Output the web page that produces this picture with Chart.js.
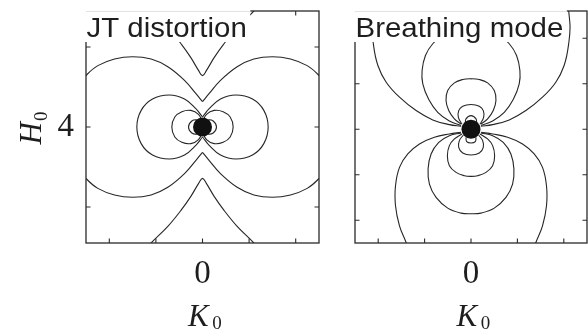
<!DOCTYPE html>
<html>
<head>
<meta charset="utf-8">
<script src="https://cdn.jsdelivr.net/npm/chart.js@4.4.1/dist/chart.umd.min.js"></script>
<style>
  html, body { margin: 0; padding: 0; background: #fff; overflow: hidden; }
  #wrap { position: relative; width: 588px; height: 332px; }
  canvas { position: absolute; top: 0; }
  #jt { left: 0; }
  #bm { left: 330px; }
</style>
</head>
<body>
<div id="wrap">
  <canvas id="jt" width="330" height="332"></canvas>
  <canvas id="bm" width="258" height="332"></canvas>
</div>
<script>
// ---- labels and ticks ----
const panelTitles = ['JT distortion', 'Breathing mode'];
const kName = ['K', '0'];
const hName = ['H', '0'];
const kTicks = [-2, -1, 0, 1, 2];
const hTicksJT = [3, 4, 5];
const hTicksBM = [-2, -1, 0, 1, 2];
const kLabelValue = 0;
const hLabelValue = 4;

// ---- JT distortion contours, points as [K0, H0] ----
const jtCentre = [[0, 4]];
const jtVUpper = [[-1.431,5.667],[-1.102,5.45],[-0.744,5.242],[-0.451,5.033],[-0.250,4.867],[-0.086,4.708],[0,4.642],[0.086,4.708],[0.250,4.867],[0.451,5.033],[0.744,5.242],[1.102,5.45],[1.431,5.667]];
const jtVLower = [[-1.431,2.333],[-1.102,2.55],[-0.744,2.758],[-0.451,2.967],[-0.250,3.133],[-0.086,3.292],[0,3.358],[0.086,3.292],[0.250,3.133],[0.451,2.967],[0.744,2.758],[1.102,2.55],[1.431,2.333]];
const jtArcUpperLeft = [[-2.818,4.421],[-2.489,4.65],[-2.246,4.767],[-1.888,4.85],[-1.502,4.879],[-1.102,4.85],[-0.744,4.754],[-0.386,4.583],[-0.136,4.413],[0,4.317]];
const jtArcUpperRight = [[0,4.317],[0.136,4.413],[0.386,4.583],[0.744,4.754],[1.102,4.85],[1.502,4.879],[1.888,4.85],[2.246,4.767],[2.489,4.65],[2.818,4.421]];
const jtArcLowerLeft = [[-2.818,3.579],[-2.489,3.35],[-2.246,3.233],[-1.888,3.15],[-1.502,3.121],[-1.102,3.15],[-0.744,3.246],[-0.386,3.417],[-0.136,3.587],[0,3.683]];
const jtArcLowerRight = [[0,3.683],[0.136,3.587],[0.386,3.417],[0.744,3.246],[1.102,3.15],[1.502,3.121],[1.888,3.15],[2.246,3.233],[2.489,3.35],[2.818,3.579]];
const jtLoopOuterLeft = [[0,4.125],[-0.143,4.229],[-0.386,4.35],[-0.715,4.40],[-1.073,4.35],[-1.316,4.208],[-1.409,4],[-1.316,3.792],[-1.073,3.65],[-0.715,3.60],[-0.386,3.65],[-0.143,3.771],[0,3.875]];
const jtLoopOuterRight = [[0,4.125],[0.143,4.229],[0.386,4.35],[0.715,4.40],[1.073,4.35],[1.316,4.208],[1.409,4],[1.316,3.792],[1.073,3.65],[0.715,3.60],[0.386,3.65],[0.143,3.771],[0,3.875]];
const jtLoopMidLeft = [[0,4.0625],[-0.086,4.158],[-0.25,4.208],[-0.443,4.192],[-0.594,4.125],[-0.658,4],[-0.594,3.875],[-0.443,3.808],[-0.25,3.792],[-0.086,3.842],[0,3.9375]];
const jtLoopMidRight = [[0,4.0625],[0.086,4.158],[0.25,4.208],[0.443,4.192],[0.594,4.125],[0.658,4],[0.594,3.875],[0.443,3.808],[0.25,3.792],[0.086,3.842],[0,3.9375]];
const jtLoopInnerLeft = [[0,4.042],[-0.107,4.0875],[-0.229,4.075],[-0.30,4],[-0.229,3.925],[-0.107,3.9125],[0,3.958]];
const jtLoopInnerRight = [[0,4.042],[0.107,4.0875],[0.229,4.075],[0.30,4],[0.229,3.925],[0.107,3.9125],[0,3.958]];

// ---- Breathing mode contours, points as [K0, H0 offset] ----
const bmCentre = [[0, 0]];
const bmUpper1 = [[-0.215,0.066],[-0.466,0.103],[-0.824,0.206],[-1.183,0.411],[-1.541,0.705],[-1.828,1.035],[-2.007,1.402],[-2.100,1.843],[-2.129,2.357],[-1.971,3.164],[-1.470,3.972],[-0.681,4.449],[0,4.537],[0.681,4.449],[1.470,3.972],[1.971,3.164],[2.129,2.357],[2.100,1.843],[2.007,1.402],[1.828,1.035],[1.541,0.705],[1.183,0.411],[0.824,0.206],[0.466,0.103],[0.215,0.066]];
const bmUpper2 = [[-0.215,0.081],[-0.466,0.184],[-0.717,0.374],[-0.910,0.653],[-1.039,0.999],[-1.054,1.292],[-0.982,1.623],[-0.824,1.880],[-0.573,2.100],[-0.287,2.216],[0,2.247],[0.287,2.216],[0.573,2.100],[0.824,1.880],[0.982,1.623],[1.054,1.292],[1.039,0.999],[0.910,0.653],[0.717,0.374],[0.466,0.184],[0.215,0.081]];
const bmUpper3 = [[-0.215,0.117],[-0.358,0.228],[-0.480,0.411],[-0.538,0.631],[-0.502,0.852],[-0.358,1.021],[-0.179,1.094],[0,1.109],[0.179,1.094],[0.358,1.021],[0.502,0.852],[0.538,0.631],[0.480,0.411],[0.358,0.228],[0.215,0.117]];
const bmUpper4 = [[-0.194,0.110],[-0.272,0.264],[-0.265,0.411],[-0.179,0.507],[0,0.543],[0.179,0.507],[0.265,0.411],[0.272,0.264],[0.194,0.110]];
const bmUpper5 = [[-0.122,0.117],[-0.108,0.228],[0,0.301],[0.108,0.228],[0.122,0.117]];
const bmLower1 = [[-0.215,-0.066],[-0.466,-0.103],[-0.789,-0.176],[-1.111,-0.323],[-1.362,-0.543],[-1.541,-0.837],[-1.627,-1.241],[-1.627,-1.681],[-1.541,-2.122],[-1.398,-2.489],[-1.290,-2.783],[-0.753,-3.223],[0,-3.333],[0.753,-3.223],[1.290,-2.783],[1.398,-2.489],[1.541,-2.122],[1.627,-1.681],[1.627,-1.241],[1.541,-0.837],[1.362,-0.543],[1.111,-0.323],[0.789,-0.176],[0.466,-0.103],[0.215,-0.066]];
const bmLower2 = [[-0.215,-0.081],[-0.466,-0.140],[-0.695,-0.286],[-0.860,-0.543],[-0.925,-0.874],[-0.896,-1.204],[-0.753,-1.498],[-0.502,-1.733],[-0.215,-1.843],[0,-1.858],[0.215,-1.843],[0.502,-1.733],[0.753,-1.498],[0.896,-1.204],[0.925,-0.874],[0.860,-0.543],[0.695,-0.286],[0.466,-0.140],[0.215,-0.081]];
const bmLower3 = [[-0.194,-0.103],[-0.358,-0.213],[-0.466,-0.360],[-0.509,-0.580],[-0.466,-0.800],[-0.323,-0.947],[-0.143,-1.021],[0,-1.035],[0.143,-1.021],[0.323,-0.947],[0.466,-0.800],[0.509,-0.580],[0.466,-0.360],[0.358,-0.213],[0.194,-0.103]];
const bmLower4 = [[-0.165,-0.125],[-0.251,-0.250],[-0.265,-0.396],[-0.179,-0.521],[0,-0.565],[0.179,-0.521],[0.265,-0.396],[0.251,-0.250],[0.165,-0.125]];
const bmLower5 = [[-0.108,-0.176],[-0.093,-0.272],[0,-0.301],[0.093,-0.272],[0.108,-0.176]];

// ---- styling ----
const INK = '#1e1e1e';
const LINE = '#262626';
const SERIF = '"Liberation Serif", "Times New Roman", serif';
const SANS = '"Liberation Sans", Arial, sans-serif';

const toXY = arr => arr.map(p => ({ x: p[0], y: p[1] }));
const contour = arr => ({
  data: toXY(arr), showLine: true, tension: 0.4, borderColor: LINE, borderWidth: 1.1,
  pointRadius: 0, pointHoverRadius: 0, fill: false
});
const centre = arr => ({
  data: toXY(arr), showLine: false, pointRadius: 9.5, pointHoverRadius: 9.5,
  pointBackgroundColor: '#111', pointBorderColor: '#111', pointBorderWidth: 0
});

// fixed tick positions and no extra label padding around the plot box
const fixTicks = values => s => { s.ticks = values.map(v => ({ value: v })); };
const noPad = s => { s.paddingTop = 0; s.paddingBottom = 0; s.paddingLeft = 0; s.paddingRight = 0; };

// frame with inward ticks, boxed panel title and axis names
function panelDecor(cfg) {
  return {
    id: 'panelDecor',
    afterDraw(chart) {
      const { ctx, chartArea: a } = chart;
      const xs = chart.scales.x, ys = chart.scales.y;
      ctx.save();
      ctx.strokeStyle = '#2a2a2a';
      ctx.lineWidth = 1.3;
      ctx.strokeRect(a.left, a.top, a.right - a.left, a.bottom - a.top);
      ctx.lineWidth = 1.1;
      ctx.beginPath();
      kTicks.forEach(v => {
        const px = xs.getPixelForValue(v);
        ctx.moveTo(px, a.bottom); ctx.lineTo(px, a.bottom - 4.5);
        ctx.moveTo(px, a.top); ctx.lineTo(px, a.top + 4.5);
      });
      cfg.hTicks.forEach(v => {
        const py = ys.getPixelForValue(v);
        ctx.moveTo(a.left, py); ctx.lineTo(a.left + 4.5, py);
        ctx.moveTo(a.right, py); ctx.lineTo(a.right - 4.5, py);
      });
      ctx.stroke();

      // title box
      ctx.font = '27.5px ' + SANS;
      const stretch = 1.07;
      const w = ctx.measureText(cfg.title).width * stretch;
      ctx.fillStyle = '#fff';
      ctx.fillRect(a.left - 1.5, a.top - 1.5, w + 5.5, 32.5);
      ctx.strokeStyle = '#e2e2e2';
      ctx.lineWidth = 1;
      ctx.beginPath();
      ctx.moveTo(a.left, a.top + 0.5); ctx.lineTo(a.left + w + 4, a.top + 0.5);
      ctx.stroke();
      ctx.fillStyle = INK;
      ctx.textBaseline = 'alphabetic';
      ctx.textAlign = 'left';
      ctx.save();
      ctx.translate(a.left + 0.5, a.top + 26.3);
      ctx.scale(stretch, 1);
      ctx.fillText(cfg.title, 0, 0);
      ctx.restore();

      // K0 under the panel
      const x0 = xs.getPixelForValue(kLabelValue);
      ctx.font = 'italic 31px ' + SERIF;
      const kx = x0 - 14.5;
      ctx.fillText(kName[0], kx, 325.5);
      const kw = ctx.measureText(kName[0]).width;
      ctx.font = '19px ' + SERIF;
      ctx.fillText(kName[1], kx + kw + 3.5, 328.5);

      // H0 beside the left panel
      if (cfg.showH) {
        const y4 = ys.getPixelForValue(hLabelValue);
        ctx.save();
        ctx.translate(41, y4 + 17.5);
        ctx.rotate(-Math.PI / 2);
        ctx.font = 'italic 31px ' + SERIF;
        ctx.fillText(hName[0], 0, 0);
        const hw = ctx.measureText(hName[0]).width;
        ctx.font = '19px ' + SERIF;
        ctx.fillText(hName[1], hw + 1, 6);
        ctx.restore();
      }
      ctx.restore();
    }
  };
}

const tickFont = { family: SERIF, size: 33 };

function xScale() {
  return {
    type: 'linear', min: -2.5, max: 2.5,
    grid: { display: false, drawTicks: false }, border: { display: false },
    ticks: {
      autoSkip: false, maxRotation: 0, padding: 12, color: INK, font: tickFont,
      callback: v => (v === kLabelValue ? String(v) : '')
    },
    afterBuildTicks: fixTicks(kTicks),
    afterFit: s => { noPad(s); s.height = 89; }
  };
}

const common = {
  responsive: false,
  animation: false,
  events: [],
  devicePixelRatio: 1,
  elements: { line: { capBezierPoints: false } },
  plugins: { legend: { display: false }, tooltip: { enabled: false } }
};

new Chart(document.getElementById('jt'), {
  type: 'scatter',
  data: {
    datasets: [
      centre(jtCentre),
      contour(jtVUpper), contour(jtVLower),
      contour(jtArcUpperLeft), contour(jtArcUpperRight),
      contour(jtArcLowerLeft), contour(jtArcLowerRight),
      contour(jtLoopOuterLeft), contour(jtLoopOuterRight),
      contour(jtLoopMidLeft), contour(jtLoopMidRight),
      contour(jtLoopInnerLeft), contour(jtLoopInnerRight)
    ]
  },
  options: Object.assign({}, common, {
    layout: { autoPadding: false, padding: { left: 0, right: 11, top: 11, bottom: 0 } },
    scales: {
      x: xScale(),
      y: {
        type: 'linear', min: 2.55, max: 5.45,
        grid: { display: false, drawTicks: false }, border: { display: false },
        ticks: {
          autoSkip: false, padding: 12, color: INK, font: tickFont,
          callback: v => (v === hLabelValue ? String(v) : '')
        },
        afterBuildTicks: fixTicks(hTicksJT),
        afterFit: s => { noPad(s); s.width = 86; }
      }
    }
  }),
  plugins: [panelDecor({ title: panelTitles[0], hTicks: hTicksJT, showH: true })]
});

new Chart(document.getElementById('bm'), {
  type: 'scatter',
  data: {
    datasets: [
      centre(bmCentre),
      contour(bmUpper1), contour(bmUpper2), contour(bmUpper3), contour(bmUpper4), contour(bmUpper5),
      contour(bmLower1), contour(bmLower2), contour(bmLower3), contour(bmLower4), contour(bmLower5)
    ]
  },
  options: Object.assign({}, common, {
    layout: { autoPadding: false, padding: { left: 25, right: 1, top: 11, bottom: 0 } },
    scales: {
      x: xScale(),
      y: { type: 'linear', min: -2.5, max: 2.6, display: false, afterFit: noPad }
    }
  }),
  plugins: [panelDecor({ title: panelTitles[1], hTicks: hTicksBM, showH: false })]
});
</script>
</body>
</html>
